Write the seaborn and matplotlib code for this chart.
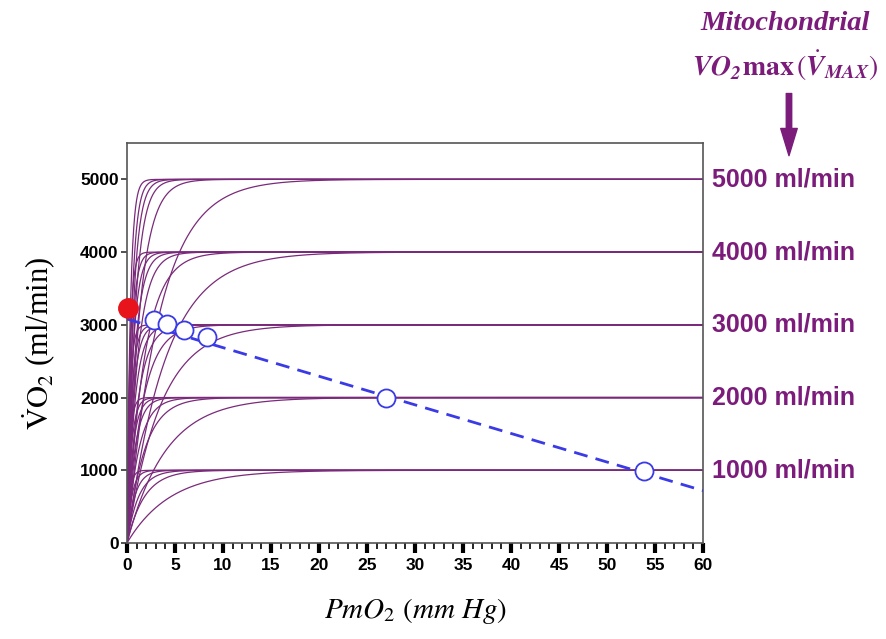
import numpy as np
import pandas as pd
import matplotlib
matplotlib.use('Agg')
import matplotlib.pyplot as plt
import seaborn as sns
from matplotlib.ticker import MultipleLocator

# mitochondrial Vmax levels (ml/min) and the saturation constants of each curve family (mm Hg)
vmax_levels = [5000, 4000, 3000, 2000, 1000]
curve_k = {
    5000: [0.35, 0.5, 0.65, 0.85, 1.3, 3.4],
    4000: [0.3, 0.45, 0.6, 0.8, 1.1, 1.8, 4.0],
    3000: [0.3, 0.45, 0.6, 0.8, 1.1, 1.6, 3.5],
    2000: [0.3, 0.45, 0.6, 0.8, 1.2, 1.8, 4.0],
    1000: [0.3, 0.5, 0.8, 1.2, 1.8, 4.5],
}
right_labels = ['5000 ml/min', '4000 ml/min', '3000 ml/min', '2000 ml/min', '1000 ml/min']

# O2 supply line (dashed) end points
supply_x = [0, 60]
supply_y = [3080, 720]

# intersections (open circles) and the red point
circle_x = [2.8, 4.2, 5.9, 8.3, 27.0, 53.8]
circle_y = [3070, 3015, 2935, 2835, 1995, 990]
red_x = [0.1]
red_y = [3225]

purple = '#7a2a7a'
label_purple = '#7b1c7b'
blue = '#3a3ae6'

p = np.linspace(0, 60, 1200)
rows = []
for vm in vmax_levels:
    for j, k in enumerate(curve_k[vm]):
        v = vm * (1 - np.exp(-p / k))
        rows.append(pd.DataFrame({'P': p, 'V': v, 'curve': f'{vm}_{j}'}))
curves = pd.concat(rows, ignore_index=True)

sns.set_style('white')
plt.rcParams['font.family'] = ['Liberation Sans', 'DejaVu Sans']
plt.rcParams['mathtext.fontset'] = 'stix'

fig = plt.figure(figsize=(8.86, 6.39), dpi=100)
ax = fig.add_axes([0.1433, 0.1502, 0.6502, 0.626])

sns.lineplot(data=curves, x='P', y='V', units='curve', estimator=None,
             color=purple, lw=0.9, ax=ax, legend=False)

ax.plot(supply_x, supply_y, ls=(0, (5, 3)), color=blue, lw=2, zorder=3)
ax.plot(circle_x, circle_y, 'o', ms=13, mfc='white', mec=blue, mew=1.3, zorder=4)
ax.plot(red_x, red_y, 'o', ms=14, mfc='#e8141c', mec='#e8141c', zorder=5, clip_on=False)

ax.set_xlim(0, 60)
ax.set_ylim(0, 5500)
ax.xaxis.set_major_locator(MultipleLocator(5))
ax.xaxis.set_minor_locator(MultipleLocator(1))
ax.set_yticks(range(0, 6000, 1000))

for s in ax.spines.values():
    s.set_color('#555555')
    s.set_linewidth(1.2)
ax.tick_params(axis='x', which='major', direction='out', length=7, width=3, color='black',
               labelsize=12.5, pad=4, labelcolor='black', bottom=True)
ax.tick_params(axis='x', which='minor', direction='out', length=4, width=1.2, color='black',
               bottom=True)
ax.tick_params(axis='y', which='major', direction='out', length=4, width=1.2, color='#333333',
               labelsize=12.5, pad=2, left=True, labelcolor='black')
for t in ax.get_xticklabels() + ax.get_yticklabels():
    t.set_fontweight('bold')

ax.set_xlabel(r'$PmO_2\ (mm\ Hg)$', fontsize=21, labelpad=16, color='black')
ax.set_ylabel(r'$\dot{\mathrm{V}}\mathrm{O}_2$ (ml/min)', fontsize=22, color='black',
              family=['Liberation Serif', 'DejaVu Serif'], labelpad=16)

for vm, lab in zip(vmax_levels, right_labels):
    ax.text(1.016, vm, lab, transform=ax.get_yaxis_transform(), ha='left', va='center',
            fontsize=18, fontweight='bold', color=label_purple)

fig.text(0.886, 0.963, 'Mitochondrial', ha='center', va='center', fontsize=20.5,
         fontweight='bold', style='italic', color=label_purple,
         family=['Liberation Serif', 'DejaVu Serif'])
fig.text(0.886, 0.897, r'$\mathbfit{VO_2}\mathbf{max}\,(\dot{\mathbfit{V}}_{\mathbfit{MAX}})$',
         ha='center', va='center', fontsize=20, color=label_purple)
fig.patches.append(matplotlib.patches.FancyArrowPatch(
    (0.8905, 0.858), (0.8905, 0.752), transform=fig.transFigure,
    arrowstyle='simple,head_width=0.85,head_length=1.4,tail_width=0.28',
    mutation_scale=14, color=label_purple))

fig.savefig('out.png', dpi=100, facecolor='white')
